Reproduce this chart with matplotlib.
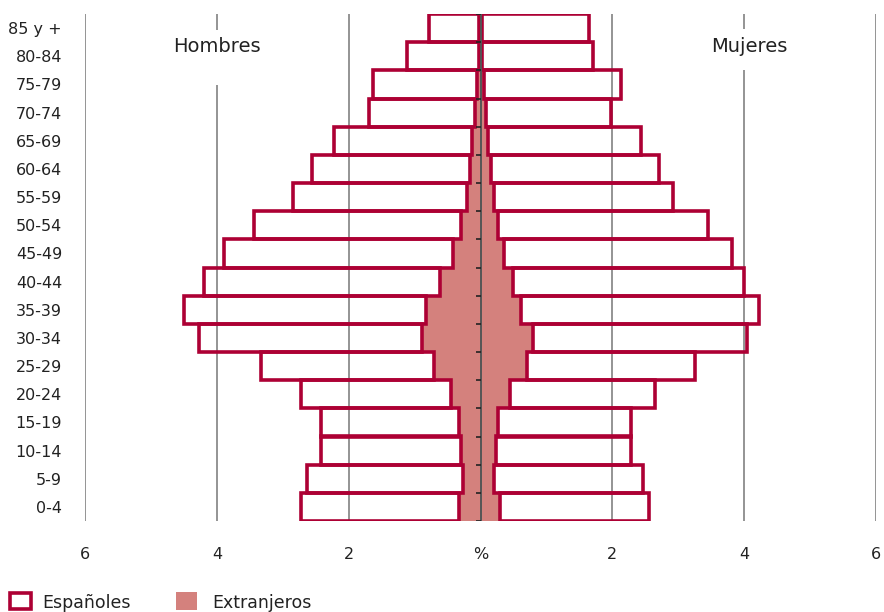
import numpy as np
import matplotlib.pyplot as plt
from matplotlib.patches import Rectangle

# age groups from bottom (0-4) to top (85 y +)
ages = ["0-4", "5-9", "10-14", "15-19", "20-24", "25-29", "30-34", "35-39",
        "40-44", "45-49", "50-54", "55-59", "60-64", "65-69", "70-74",
        "75-79", "80-84", "85 y +"]

# % of total population
hombres_esp = [2.40, 2.36, 2.13, 2.10, 2.29, 2.63, 3.38, 3.68, 3.58, 3.47,
               3.14, 2.65, 2.40, 2.09, 1.60, 1.57, 1.09, 0.75]
hombres_ext = [0.33, 0.27, 0.29, 0.32, 0.44, 0.70, 0.89, 0.82, 0.62, 0.42,
               0.29, 0.20, 0.16, 0.13, 0.09, 0.06, 0.03, 0.03]
mujeres_esp = [2.27, 2.25, 2.04, 2.02, 2.20, 2.56, 3.26, 3.61, 3.51, 3.46,
               3.18, 2.71, 2.55, 2.31, 1.90, 2.07, 1.68, 1.62]
mujeres_ext = [0.29, 0.21, 0.24, 0.26, 0.44, 0.70, 0.79, 0.62, 0.49, 0.36,
               0.27, 0.21, 0.16, 0.12, 0.08, 0.06, 0.02, 0.02]

xticks = [-6, -4, -2, 0, 2, 4, 6]
xticklabels = ["6", "4", "2", "%", "2", "4", "6"]

edge = "#AD0034"
fill = "#D4817D"
txt = "#222222"

plt.rcParams['font.family'] = ['DejaVu Sans']

fig = plt.figure(figsize=(8.84, 6.12), dpi=100)
ax = fig.add_axes([85/884, 1 - 521/612, 791/884, 507/612])

y = np.arange(len(ages))
h_ext = np.array(hombres_ext)
m_ext = np.array(mujeres_ext)

# grid lines (broken behind the Hombres / Mujeres labels)
ax.vlines([-6, -2, 2, 6], -0.5, 17.5, color="#777777", lw=1.1, zorder=1)
ax.vlines([-4, -4], [-0.5, 16.93], [14.98, 17.5], color="#777777", lw=1.1, zorder=1)
ax.vlines([4, 4], [-0.5, 16.95], [15.51, 17.5], color="#777777", lw=1.1, zorder=1)

# extranjeros (filled, centre)
ax.barh(y, -h_ext, height=1.0, color=fill, edgecolor="none", zorder=2)
ax.barh(y, m_ext, height=1.0, color=fill, edgecolor="none", zorder=2)

# españoles (outlined, stacked outside)
ax.barh(y, -np.array(hombres_esp), left=-h_ext, height=1.0, fill=False,
        edgecolor=edge, lw=2.6, zorder=3)
ax.barh(y, np.array(mujeres_esp), left=m_ext, height=1.0, fill=False,
        edgecolor=edge, lw=2.6, zorder=3)

# centre line with small ticks at group boundaries
ax.vlines(0, -0.5, 17.5, color="#555555", lw=1.4, zorder=4)
ax.hlines(np.arange(len(ages) + 1) - 0.5, -0.065, 0, color="#222222", lw=1.2, zorder=4)

ax.text(-4.0, 16.36, "Hombres", ha="center", va="center", fontsize=14, color=txt)
ax.text(4.08, 16.36, "Mujeres", ha="center", va="center", fontsize=14, color=txt)

ax.set_xlim(-6, 6)
ax.set_ylim(-0.5, 17.5)
ax.set_yticks(y)
ax.set_yticklabels(ages)
ax.set_xticks(xticks)
ax.set_xticklabels(xticklabels)
ax.tick_params(axis="y", length=0, pad=16.5, labelsize=11.5, labelcolor=txt)
ax.tick_params(axis="x", length=0, pad=19, labelsize=11.5, labelcolor=txt)
for s in ax.spines.values():
    s.set_visible(False)

# legend
fig.patches.append(Rectangle((10/884, 1 - 609/612), 21/884, 16/612, transform=fig.transFigure,
                             fill=False, edgecolor=edge, lw=2.6))
fig.text(42/884, 1 - 603/612, "Españoles", ha="left", va="center", fontsize=12.5, color=txt)
fig.patches.append(Rectangle((176/884, 1 - 610/612), 21/884, 18/612, transform=fig.transFigure,
                             facecolor=fill, edgecolor="none"))
fig.text(212/884, 1 - 603/612, "Extranjeros", ha="left", va="center", fontsize=12.5, color=txt)

fig.savefig("out.png", dpi=100)
